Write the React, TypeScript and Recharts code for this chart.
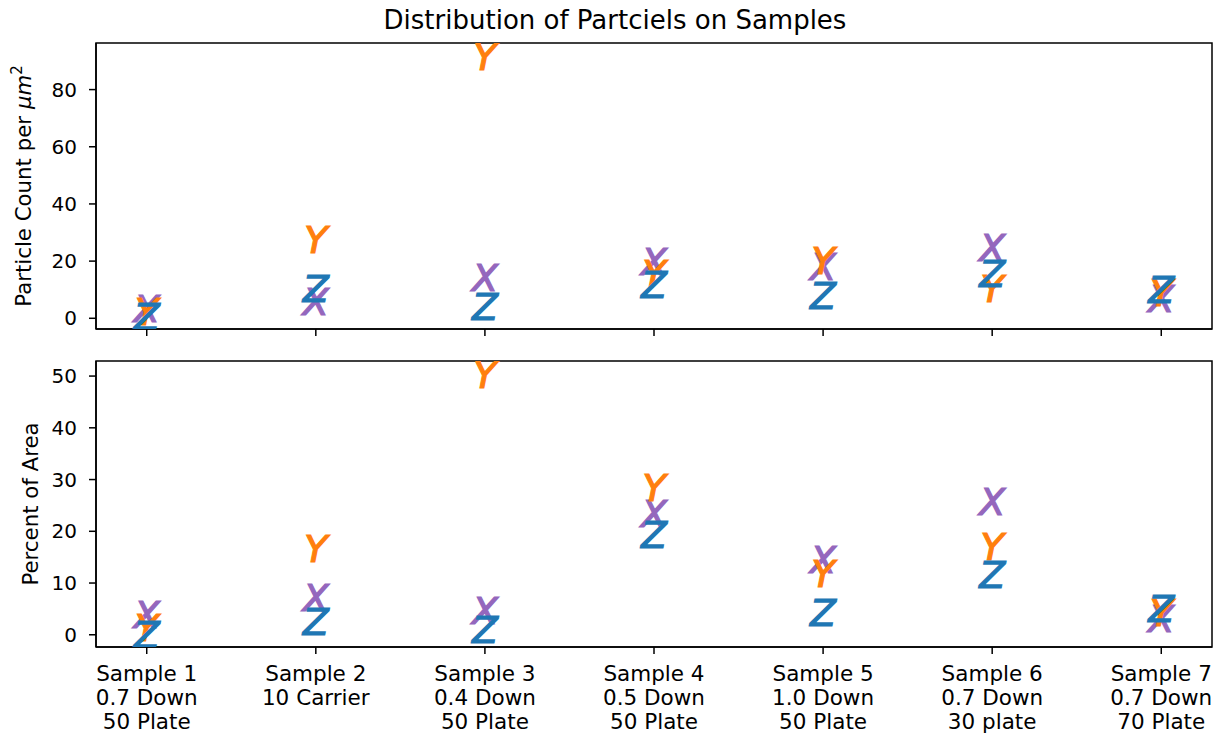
import React from 'react';
import { ScatterChart, Scatter, XAxis, YAxis, ReferenceArea } from 'recharts';

// category labels (matplotlib multi-line tick labels)
const sampleLabels = [
  'Sample 1\n0.7 Down\n50 Plate',
  'Sample 2\n10 Carrier',
  'Sample 3\n0.4 Down\n50 Plate',
  'Sample 4\n0.5 Down\n50 Plate',
  'Sample 5\n1.0 Down\n50 Plate',
  'Sample 6\n0.7 Down\n30 plate',
  'Sample 7\n0.7 Down\n70 Plate',
];

// particle count per um^2
const countX = [3.5, 6.1, 14.5, 20.1, 18.3, 24.8, 7.1];
const countY = [2.6, 27.6, 91.75, 15.9, 20.4, 10.6, 9.2];
const countZ = [0.8, 10.4, 4.3, 12.0, 8.2, 15.9, 10.3];

// percent of area
const areaX = [4.0, 7.2, 4.7, 23.5, 14.6, 25.9, 3.2];
const areaY = [1.5, 16.8, 50.4, 28.5, 11.9, 17.1, 4.3];
const areaZ = [0.15, 2.6, 1.0, 19.4, 4.4, 11.8, 5.1];

const countTicks = [0, 20, 40, 60, 80];
const areaTicks = [0, 10, 20, 30, 40, 50];
const xTicks = sampleLabels.map((_, i) => i);

const BLUE = '#1f77b4';
const ORANGE = '#ff7f0e';
const PURPLE = '#9467bd';
const FONT = '"DejaVu Sans", sans-serif';
const YTICK_FS = 20;
const XTICK_FS = 21.5;
const LABEL_FS = 21.3;

const toPoints = (vals: number[]) => vals.map((v, i) => ({ x: i, y: v }));

// matplotlib style autoscale with 5% margins
const padDomain = (arrs: number[][]): [number, number] => {
  const all = arrs.flat();
  const lo = Math.min(...all);
  const hi = Math.max(...all);
  const m = (hi - lo) * 0.05;
  return [lo - m, hi + m];
};

const xDomain: [number, number] = [-0.3, 6.3];

const letterShape = (letter: string, color: string) => (props: any) => {
  const { cx, cy } = props;
  if (cx == null || cy == null) return <g />;
  const fs = 38;
  return (
    <text
      x={cx}
      y={cy + fs * 0.365}
      textAnchor="middle"
      fontFamily={FONT}
      fontStyle="italic"
      fontSize={fs}
      fill={color}
      stroke={color}
      strokeWidth={1.2}
    >
      {letter}
    </text>
  );
};

const SampleTick = (props: any) => {
  const { x, y, payload } = props;
  const lines = sampleLabels[payload.value].split('\n');
  return (
    <text x={x} y={y} textAnchor="middle" fontFamily={FONT} fontSize={XTICK_FS} fill="#000">
      {lines.map((l, i) => (
        <tspan key={i} x={x} dy={i === 0 ? 24.5 : 24.2}>
          {l}
        </tspan>
      ))}
    </text>
  );
};

const countLabel = (props: any) => {
  const vb = props.viewBox || {};
  const cy = vb.y + vb.height / 2;
  const bx = 31;
  return (
    <text
      x={bx}
      y={cy}
      transform={`rotate(-90, ${bx}, ${cy})`}
      textAnchor="middle"
      fontFamily={FONT}
      fontSize={LABEL_FS}
      fill="#000"
    >
      Particle Count per <tspan fontStyle="italic">μm</tspan>
      <tspan fontSize={15} dy={-9}>2</tspan>
    </text>
  );
};

const areaLabel = (props: any) => {
  const vb = props.viewBox || {};
  const cy = vb.y + vb.height / 2;
  const bx = 37.5;
  return (
    <text
      x={bx}
      y={cy}
      transform={`rotate(-90, ${bx}, ${cy})`}
      textAnchor="middle"
      fontFamily={FONT}
      fontSize={LABEL_FS}
      fill="#000"
    >
      Percent of Area
    </text>
  );
};

const tickStyle = { fontFamily: FONT, fontSize: YTICK_FS, fill: '#000' };
const axisLine = { stroke: '#000', strokeWidth: 1.5 };
const tickLine = { stroke: '#000', strokeWidth: 1.5 };

export default function App() {
  const countDomain = padDomain([countX, countY, countZ]);
  const areaDomain = padDomain([areaX, areaY, areaZ]);

  return (
    <div style={{ position: 'absolute', left: 0, top: 0, width: 1220, height: 735, background: '#fff' }}>
      <svg width={1220} height={40} style={{ position: 'absolute', left: 0, top: 0 }}>
        <text x={615} y={28.5} textAnchor="middle" fontFamily={FONT} fontSize={26} fill="#000">
          Distribution of Partciels on Samples
        </text>
      </svg>

      <div style={{ position: 'absolute', left: 0, top: 0 }}>
        <ScatterChart width={1220} height={345} margin={{ top: 43, right: 8, left: 0, bottom: 0 }}>
          <XAxis
            type="number"
            dataKey="x"
            domain={xDomain}
            ticks={xTicks}
            interval={0}
            height={16}
            tickSize={7}
            tickFormatter={() => ''}
            axisLine={axisLine}
            tickLine={tickLine}
          />
          <YAxis
            type="number"
            dataKey="y"
            domain={countDomain}
            ticks={countTicks}
            interval={0}
            allowDataOverflow
            width={96}
            tickSize={7}
            tickMargin={12}
            tick={tickStyle}
            axisLine={axisLine}
            tickLine={tickLine}
            label={countLabel}
          />
          <ReferenceArea
            x1={xDomain[0]}
            x2={xDomain[1]}
            y1={countDomain[0]}
            y2={countDomain[1]}
            fill="none"
            stroke="#000"
            strokeWidth={1.5}
            ifOverflow="visible"
          />
          <Scatter data={toPoints(countX)} shape={letterShape('X', PURPLE)} isAnimationActive={false} />
          <Scatter data={toPoints(countY)} shape={letterShape('Y', ORANGE)} isAnimationActive={false} />
          <Scatter data={toPoints(countZ)} shape={letterShape('Z', BLUE)} isAnimationActive={false} />
        </ScatterChart>
      </div>

      <div style={{ position: 'absolute', left: 0, top: 345 }}>
        <ScatterChart width={1220} height={390} margin={{ top: 16, right: 8, left: 0, bottom: 0 }}>
          <XAxis
            type="number"
            dataKey="x"
            domain={xDomain}
            ticks={xTicks}
            interval={0}
            height={88}
            tickSize={7}
            tickMargin={2}
            tick={<SampleTick />}
            axisLine={axisLine}
            tickLine={tickLine}
          />
          <YAxis
            type="number"
            dataKey="y"
            domain={areaDomain}
            ticks={areaTicks}
            interval={0}
            allowDataOverflow
            width={96}
            tickSize={7}
            tickMargin={12}
            tick={tickStyle}
            axisLine={axisLine}
            tickLine={tickLine}
            label={areaLabel}
          />
          <ReferenceArea
            x1={xDomain[0]}
            x2={xDomain[1]}
            y1={areaDomain[0]}
            y2={areaDomain[1]}
            fill="none"
            stroke="#000"
            strokeWidth={1.5}
            ifOverflow="visible"
          />
          <Scatter data={toPoints(areaX)} shape={letterShape('X', PURPLE)} isAnimationActive={false} />
          <Scatter data={toPoints(areaY)} shape={letterShape('Y', ORANGE)} isAnimationActive={false} />
          <Scatter data={toPoints(areaZ)} shape={letterShape('Z', BLUE)} isAnimationActive={false} />
        </ScatterChart>
      </div>
    </div>
  );
}
